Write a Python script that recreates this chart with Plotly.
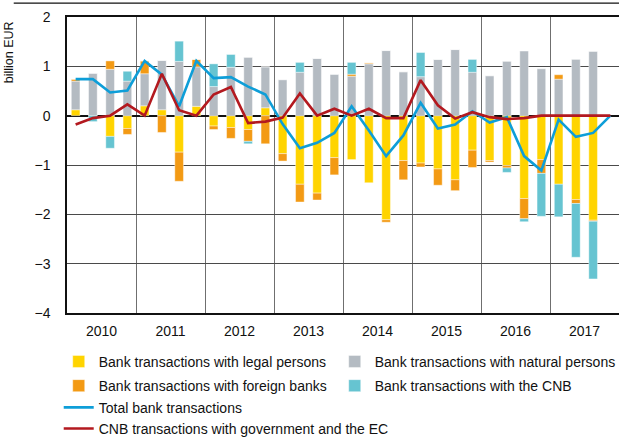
import plotly.graph_objects as go

# Quarterly periods 2010 Q1 - 2017 Q4
years = ["2010", "2011", "2012", "2013", "2014", "2015", "2016", "2017"]
quarters_per_year = 4

# Bank transactions by counterparty (billion EUR)
legal_persons = [
    0.12, 0.00, -0.42, -0.26,
    0.20, 0.12, -0.74, 0.19,
    -0.21, -0.24, -0.28, 0.16,
    -0.77, -1.39, -1.57, -0.85,
    -0.89, -1.36, -2.11, -0.91,
    -0.96, -1.08, -1.30, -0.70,
    -0.91, -1.01, -1.68, -0.89,
    -1.39, -1.70, -2.12, None,
]
natural_persons = [
    0.58, 0.86, 0.94, 0.70,
    0.65, 1.00, 1.10, 0.80,
    0.59, 0.98, 1.18, 0.83,
    0.73, 0.88, 1.16, 0.84,
    0.80, 1.05, 1.32, 0.89,
    0.79, 1.14, 1.34, 0.88,
    0.81, 1.10, 1.31, 0.95,
    0.74, 1.14, 1.30, None,
]
foreign_banks = [
    0.04, 0.00, 0.17, -0.12,
    0.26, -0.34, -0.59, 0.15,
    -0.07, -0.22, -0.24, -0.57,
    -0.15, -0.36, -0.14, -0.35,
    0.04, 0.02, -0.05, -0.39,
    -0.08, -0.33, -0.22, -0.35,
    -0.03, -0.05, -0.41, -0.28,
    0.09, -0.08, -0.02, None,
]
cnb = [
    0.00, -0.12, -0.24, 0.20,
    0.00, 0.00, 0.41, 0.00,
    0.46, 0.26, -0.05, 0.00,
    0.00, 0.20, 0.00, 0.00,
    0.24, 0.00, 0.00, 0.00,
    0.49, 0.00, 0.00, 0.26,
    0.00, -0.09, -0.06, -0.87,
    -0.66, -1.09, -1.17, None,
]
total_bank = [
    0.74, 0.74, 0.47, 0.51,
    1.11, 0.83, 0.19, 1.11,
    0.76, 0.78, 0.59, 0.43,
    -0.17, -0.66, -0.55, -0.35,
    0.19, -0.30, -0.82, -0.40,
    0.26, -0.26, -0.18, 0.09,
    -0.14, -0.03, -0.82, -1.11,
    -0.08, -0.43, -0.35, 0.00,
]
cnb_government_ec = [
    -0.18, -0.05, 0.00, 0.23,
    0.00, 0.85, 0.11, 0.00,
    0.43, 0.58, -0.15, -0.12,
    -0.04, 0.45, 0.00, 0.14,
    0.00, 0.14, -0.05, -0.05,
    0.72, 0.21, -0.06, 0.07,
    -0.03, -0.07, -0.05, 0.00,
    0.00, 0.00, 0.00, 0.00,
]

n = len(years) * quarters_per_year
x = list(range(n))
year_centers = [i * quarters_per_year + 1.5 for i in range(len(years))]
year_bounds = [i * quarters_per_year - 0.5 for i in range(1, len(years))]

FONT = "Liberation Sans, Arial, sans-serif"

# (name, values, colour, legend column)
bar_specs = [
    ("Bank transactions with legal persons", legal_persons, "#FFD400", "legend"),
    ("Bank transactions with natural persons", natural_persons, "#B4BBC2", "legend3"),
    ("Bank transactions with foreign banks", foreign_banks, "#F39A14", "legend"),
    ("Bank transactions with the CNB", cnb, "#66C4D1", "legend3"),
]

fig = go.Figure()
for name, vals, color, leg in bar_specs:
    fig.add_trace(go.Bar(
        x=x, y=vals, name=name, width=0.5, legendgroup=name,
        marker=dict(color=color, line=dict(color="rgba(255,255,255,0.7)", width=0.6)),
        legend=leg,
    ))

fig.add_trace(go.Scatter(
    x=x, y=total_bank, mode="lines", name="Total bank transactions",
    line=dict(color="#0E9ED8", width=2.6), legend="legend2",
))
fig.add_trace(go.Scatter(
    x=x, y=cnb_government_ec, mode="lines",
    name="CNB transactions with government and the EC",
    line=dict(color="#B3191F", width=2.6), legend="legend2",
))

legend_common = dict(
    orientation="v", xanchor="left", yanchor="top", itemwidth=30,
    font=dict(family=FONT, size=14), bgcolor="rgba(0,0,0,0)",
)

fig.update_layout(
    width=619, height=438,
    margin=dict(l=67, r=0, t=17, b=125, autoexpand=False),
    paper_bgcolor="white", plot_bgcolor="white",
    barmode="relative",
    font=dict(family=FONT, size=14, color="#111"),
    showlegend=True,
    legend=dict(x=-0.015, y=-0.111, tracegroupgap=3, traceorder="grouped", **legend_common),
    legend3=dict(x=0.485, y=-0.111, tracegroupgap=3, traceorder="grouped", **legend_common),
    legend2=dict(x=-0.015, y=-0.266, tracegroupgap=0, **legend_common),
    xaxis=dict(
        range=[-0.5, n - 0.5],
        tickmode="array", tickvals=year_centers, ticktext=years,
        ticks="", showgrid=False, zeroline=False,
        showline=True, linecolor="#111", linewidth=1.5, mirror=True,
        tickfont=dict(family=FONT, size=14),
        ticklabelstandoff=4,
        minor=dict(tickmode="array", tickvals=year_bounds, showgrid=True,
                   gridcolor="#6f6f6f", gridwidth=1.3, ticks=""),
    ),
    yaxis=dict(
        range=[-4, 2], dtick=1, tick0=0,
        showgrid=True, gridcolor="#4a4a4a", gridwidth=1.2,
        zeroline=True, zerolinecolor="#111", zerolinewidth=1.5,
        showline=True, linecolor="#111", linewidth=1.5, mirror=True,
        ticks="", ticklabelstandoff=12,
        tickfont=dict(family=FONT, size=14),
    ),
    annotations=[dict(
        text="billion EUR", textangle=-90, showarrow=False,
        xref="paper", yref="paper", x=-0.1056, y=0.88,
        xanchor="center", yanchor="middle",
        font=dict(family=FONT, size=12.5),
    )],
    shapes=[dict(
        type="line", xref="paper", yref="paper",
        x0=-0.0965, x1=1.0, y0=1.047, y1=1.047,
        line=dict(color="#111", width=1.3),
    )],
)

fig.write_html("out.html")
